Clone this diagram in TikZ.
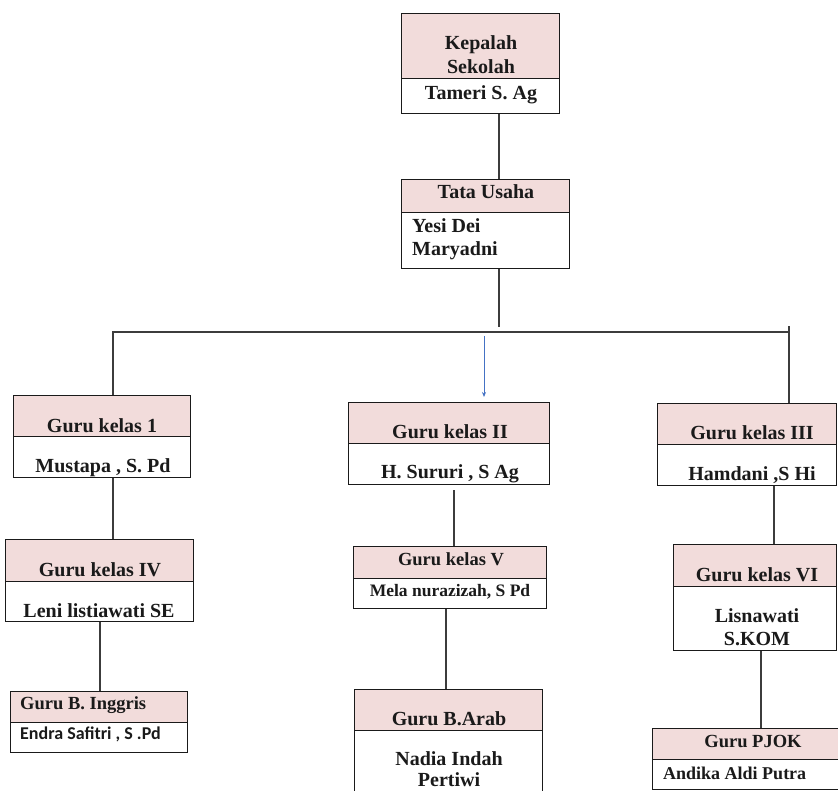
\documentclass[tikz,border=0pt]{standalone}
\usepackage{fontspec}
\setmainfont{Liberation Serif}
\newfontfamily\calib{Carlito}
\usetikzlibrary{arrows.meta}
\definecolor{pinkhdr}{HTML}{F2DCDB}
\definecolor{arrowblue}{HTML}{4472C4}
\definecolor{inkc}{HTML}{1A1A1A}
\tikzset{
  hdr/.style={draw=inkc, line width=1.3pt, fill=pinkhdr, inner sep=0pt, anchor=north west},
  bdy/.style={draw=inkc, line width=1.3pt, fill=white, inner sep=0pt, anchor=north west},
  lbl/.style={inner sep=0pt, anchor=base, text=inkc, font=\bfseries\fontsize{20}{23.5}\selectfont},
  lbls/.style={lbl, font=\bfseries\fontsize{18.5}{22}\selectfont},
  conn/.style={draw=inkc!85, line width=1.1pt},
  bluearrow/.style={draw=arrowblue, line width=0.9pt, -{Stealth[length=5pt,width=4pt]}},
}
\newcommand\orgbox[6]{%
  \node[hdr, minimum width={(#5-#2)*1pt}, minimum height={(#4-#3)*1pt}] (#1h) at (#2,#3) {};
  \node[bdy, minimum width={(#5-#2)*1pt}, minimum height={(#6-#4)*1pt}] (#1b) at (#2,#4) {};
}
\begin{document}
\begin{tikzpicture}[x=1pt,y=-1pt]
\useasboundingbox[fill=white] (0,0) rectangle (838,790);
\clip (0,0) rectangle (838,790);

% boxes: name, x1, ytop, ydiv, x2, ybottom
\orgbox{k}{401}{13}{78}{559}{113}
\orgbox{tu}{401}{179}{212}{569}{268}
\orgbox{ga}{13}{395}{436}{190}{477}
\orgbox{gb}{348}{402}{443}{549}{484}
\orgbox{gc}{657}{403}{444}{836}{485}
\orgbox{gd}{5}{539}{581}{193}{621}
\orgbox{ge}{353}{546}{578}{546}{608}
\orgbox{gf}{673}{544}{586}{836}{650}
\orgbox{gg}{10}{691}{722}{187}{752}
\orgbox{gh}{354}{689}{730}{542}{815}
\orgbox{gi}{652}{728}{759}{845}{789}

% texts
\node[lbl] (tk1) at (481,49) {Kepalah};
\node[lbl] (tk2) at (481,73) {Sekolah};
\node[lbl] (tk3) at (481,99) {Tameri S. Ag};

\node[lbl] (ttu1) at (486,198) {Tata Usaha};
\node[lbl, anchor=base west] (ttu2) at (412,232) {Yesi Dei};
\node[lbl, anchor=base west] (ttu3) at (412,255) {Maryadni};

\node[lbl] (tga1) at (102,432) {Guru kelas 1};
\node[lbl] (tga2) at (103,472) {Mustapa , S. Pd};

\node[lbl] (tgb1) at (450,438) {Guru kelas II};
\node[lbl] (tgb2) at (450,478) {H. Sururi , S Ag};

\node[lbl] (tgc1) at (752,439) {Guru kelas III};
\node[lbl] (tgc2) at (752,480) {Hamdani ,S Hi};

\node[lbl] (tgd1) at (100,576) {Guru kelas IV};
\node[lbl] (tgd2) at (99,617) {Leni listiawati SE};

\node[lbls] (tge1) at (451,565) {Guru kelas V};
\node[lbl, font=\bfseries\fontsize{17.5}{21}\selectfont] (tge2) at (450,596) {Mela nurazizah, S Pd};

\node[lbl] (tgf1) at (757,581) {Guru kelas VI};
\node[lbl] (tgf2) at (757,622) {Lisnawati};
\node[lbl] (tgf3) at (757,645) {S.KOM};

\node[lbls, anchor=base west] (tgg1) at (20,709) {Guru B. Inggris};
\node[lbl, anchor=base west, font=\calib\bfseries\fontsize{18}{21}\selectfont] (tgg2) at (20,739) {Endra Safitri , S .Pd};

\node[lbl] (tgh1) at (449,725) {Guru B.Arab};
\node[lbl] (tgh2) at (449,765) {Nadia Indah};
\node[lbl] (tgh3) at (449,786) {Pertiwi};

\node[lbls] (tgi1) at (753,747) {Guru PJOK};
\node[lbl, anchor=base west, font=\bfseries\fontsize{18}{21}\selectfont] (tgi2) at (663,779) {Andika Aldi Putra};

% connector x positions
\coordinate (xtr) at (499,0);
\coordinate (trunkend) at (499,327);
\coordinate (busL) at (112,332);
\coordinate (busR) at (789,332);
\coordinate (xa) at (113,0);
\coordinate (rtop) at (789,326);
\coordinate (arrtop) at (484,336);
\coordinate (xbe) at (454,0);
\coordinate (xeh) at (446,0);
\coordinate (xad) at (113,0);
\coordinate (xdg) at (100,0);
\coordinate (xcf) at (774,0);
\coordinate (xfi) at (761,0);

% connectors
\draw[conn] (kb.south -| xtr) -- (tuh.north -| xtr);
\draw[conn] (tub.south -| xtr) -- (trunkend);
\draw[conn] (busL) -- (busR);
\draw[conn] (busL -| xa) -- (gah.north -| xa);
\draw[conn] (rtop) -- (gch.north -| rtop);
\draw[bluearrow, shorten >=5pt] (arrtop) -- (gbh.north -| arrtop);
\draw[conn] (gab.south -| xad) -- (gdh.north -| xad);
\draw[conn] (gdb.south -| xdg) -- (ggh.north -| xdg);
\draw[conn] ([yshift=-5pt]gbb.south -| xbe) -- (geh.north -| xbe);
\draw[conn] (geb.south -| xeh) -- (ghh.north -| xeh);
\draw[conn] (gcb.south -| xcf) -- (gfh.north -| xcf);
\draw[conn] (gfb.south -| xfi) -- (gih.north -| xfi);
\end{tikzpicture}
\end{document}
